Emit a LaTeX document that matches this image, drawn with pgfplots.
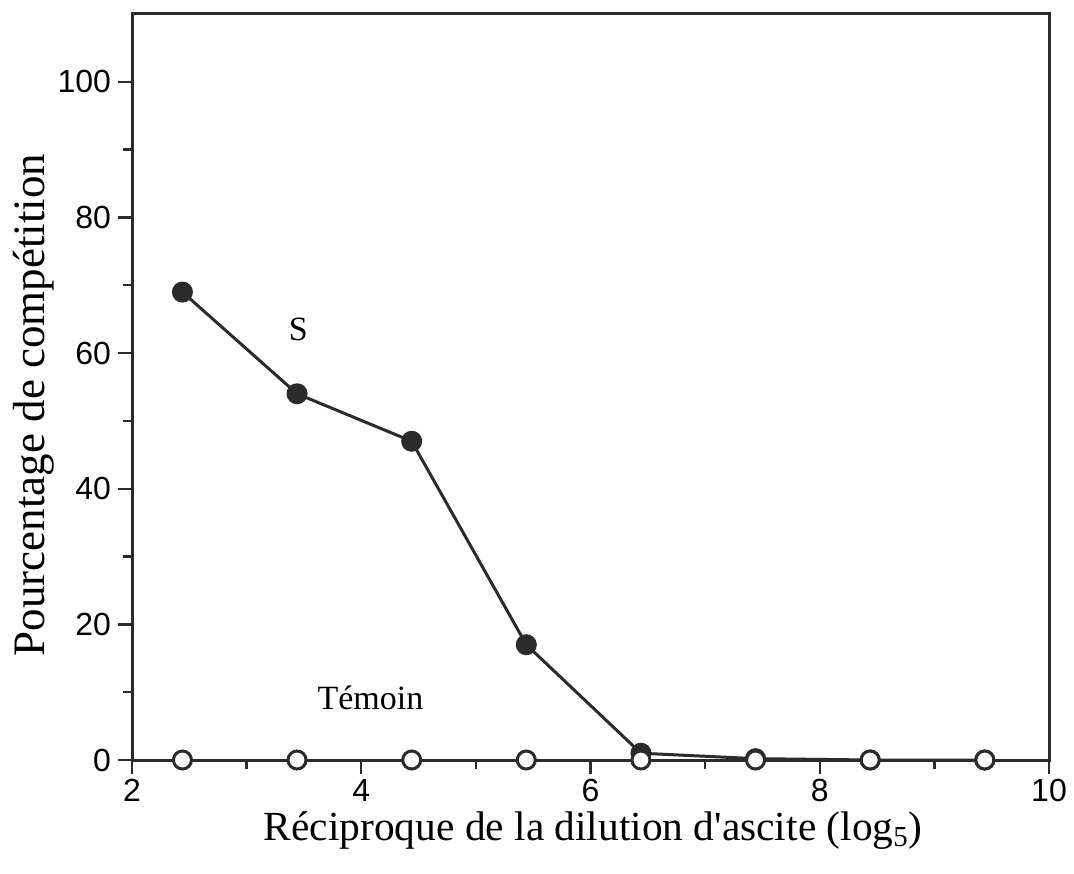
\documentclass[border=0pt]{standalone}
\usepackage{fontspec}
\setmainfont{Liberation Serif}
\newfontfamily\ticksans{Liberation Sans}
\usepackage{pgfplots}
\pgfplotsset{compat=1.18}
\definecolor{axc}{HTML}{2B2B2B}
\begin{document}
\begin{tikzpicture}
\begin{axis}[
  scale only axis, width=458.5pt, height=373pt,
  xmin=2, xmax=10, ymin=0, ymax=110,
  xtick={2,4,6,8,10}, ytick={0,20,40,60,80,100},
  minor xtick={3,5,7,9}, minor ytick={10,30,50,70,90},
  xtick pos=bottom, ytick pos=left,
  tick align=outside, major tick length=7pt, minor tick length=4.5pt,
  every tick/.style={line width=1.2pt, color=axc},
  axis line style={line width=1.5pt, color=axc},
  ticklabel style={font=\ticksans\fontsize{16}{19}\selectfont, text=black},
  xticklabel style={yshift=1pt},
  /pgf/number format/assume math mode=true,
  xlabel={Réciproque de la dilution d\textquotesingle ascite (log\textsubscript{5})},
  ylabel={Pourcentage de compétition},
  label style={font=\fontsize{20.7}{24}\selectfont},
  xlabel style={at={(axis description cs:0.503,0)}, anchor=base, yshift=-40pt},
  ylabel style={font=\fontsize{22.5}{26}\selectfont, at={(axis description cs:0,0.476)}, anchor=center, yshift=49pt},
  clip=false,
]
\addplot[line width=1.5pt, color=axc, mark=*, mark size=4.5pt, mark options={fill=axc}]
  coordinates {(2.44,69) (3.44,54) (4.44,47) (5.44,17) (6.44,1) (7.44,0.2) (8.44,0) (9.44,0)};
\addplot[line width=1.5pt, color=axc, mark=*, mark size=4.5pt, mark options={fill=white, draw=axc}]
  coordinates {(2.44,0) (3.44,0) (4.44,0) (5.44,0) (6.44,0) (7.44,0) (8.44,0) (9.44,0)};
\node[font=\fontsize{17}{20}\selectfont] at (axis cs:3.45,63.5) {S};
\node[font=\fontsize{17}{20}\selectfont] at (axis cs:4.08,9.2) {Témoin};
\end{axis}
\path (current axis.south west) ++(-66pt,-56.5pt) rectangle ++(537pt,436.5pt);
\end{tikzpicture}
\end{document}
